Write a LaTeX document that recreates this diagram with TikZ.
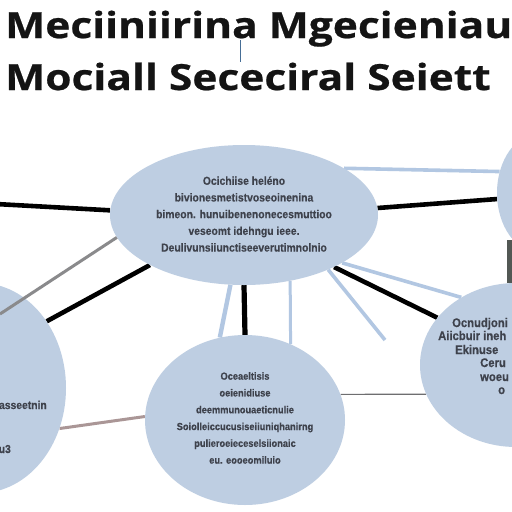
\documentclass[tikz,border=0pt]{standalone}
\usepackage{fontspec}
\setmainfont{Liberation Sans}
\newfontfamily\titlefont{Open Sans}[FakeStretch=1.18, FakeBold=0.6]
\newfontfamily\blobfont{Liberation Sans}[FakeStretch=0.9, FakeBold=0.4]
\usetikzlibrary{shapes.geometric}
\pgfdeclarelayer{bg}
\pgfdeclarelayer{lines}
\pgfsetlayers{bg,lines,main}
\definecolor{blobfill}{RGB}{190,206,226}
\definecolor{lineblue}{RGB}{178,199,226}
\definecolor{txtgray}{RGB}{62,66,76}
\definecolor{midgray}{RGB}{138,138,140}
\definecolor{thingray}{RGB}{110,110,112}
\definecolor{brownline}{RGB}{170,150,150}
\definecolor{darkbar}{RGB}{82,88,84}
\definecolor{tickblue}{RGB}{70,110,150}
\begin{document}
\begin{tikzpicture}[x=1pt,y=-1pt,
  blob/.style={ellipse, fill=blobfill, draw=none, inner sep=0pt},
  blobtext/.style={font=\blobfont\bfseries\fontsize{11.5}{16.7}\selectfont, text=txtgray, align=center, inner sep=0pt},
  smalltext/.style={font=\blobfont\bfseries\fontsize{10.3}{16.8}\selectfont, text=txtgray, align=center, inner sep=0pt},
  rtext/.style={font=\blobfont\bfseries\fontsize{12.5}{13.5}\selectfont, text=txtgray, inner sep=0pt},
  titletext/.style={font=\titlefont\bfseries\fontsize{36}{40}\selectfont, text=black!92, inner sep=0pt},
  blackline/.style={draw=black, line width=4.6pt},
  blueline/.style={draw=lineblue, line width=3.6pt},
  grayline/.style={draw=midgray, line width=3pt},
  thinline/.style={draw=thingray, line width=1.2pt},
  brownconn/.style={draw=brownline, line width=3pt}]
\useasboundingbox (0,0) rectangle (512,512);
\clip (0,0) rectangle (512,512);
\begin{pgfonlayer}{bg}
\fill[white] (0,0) rectangle (512,512);
\end{pgfonlayer}
% title
\node[titletext, anchor=base west] (t1) at (5,38) {Meciiniirina Mgecieniau};
\node[titletext, anchor=base west] (t2) at (5,90) {Mociall Sececiral Seiett};
\draw[tickblue, line width=0.9pt] (240,40) -- (240,62);
% ellipses
\node[blob, minimum width=268pt, minimum height=140pt] (e1) at (244,215) {};
\node[blob, minimum width=86pt, minimum height=120pt] (e2) at (540,193) {};
\node[blob, minimum width=200pt, minimum height=170pt] (e3) at (245,420) {};
\node[blob, minimum width=192pt, minimum height=164pt] (e4) at (516,365) {};
\node[blob, minimum width=172pt, minimum height=210pt] (e5) at (-20,388) {};
\fill[darkbar] (507,240) rectangle (514,283);
% free ends
\coordinate (lend) at (-4,204);
\coordinate (gend) at (0,314);
\coordinate (bend) at (385,340);
% connectors
\begin{pgfonlayer}{lines}
\draw[blackline] (lend) -- (e1.178);
\draw[blackline] (e1.3) -- (e2.188);
\draw[blueline] (e1.25) -- (e2.152);
\draw[blackline] (e1.208) -- (e5.45);
\draw[blackline, line width=5.2pt] (e1.270) -- (e3.90);
\draw[blueline, line width=4.4pt] (e1.259) -- (e3.107);
\draw[blueline, line width=3pt] (e1.305) -- (e3.59);
\draw[blackline] (e1.330) -- (e4.149);
\draw[blueline] (e1.334) -- (e4.129);
\draw[blueline] (e1.327) -- (bend);
\draw[thinline] (e3.15) -- (e4.198);
\draw[brownconn] (e5.333) -- (e3.178);
\end{pgfonlayer}
\draw[grayline] (e1.190) -- (gend);
% texts
\node[blobtext] (x1) at (244,214) {Ocichiise heléno\\bivionesmetistvoseoinenina\\bimeon. hunuibenenonecesmuttioo\\veseomt idehngu ieee.\\Deulivunsiiunctiseeverutimnolnio};
\node[smalltext] (x3) at (245,418) {Oceaeltisis\\oeienidiuse\\deemmunouaeticnulie\\Soiolleiccucusiseiiuniqhanirng\\pulieroeieceselsiionaic\\eu. eooeomiluio};
\foreach \xx/\yy/\tt [count=\i] in {452/327/Ocnudjoni, 438/340/Aiicbuir ineh, 455/354/Ekinuse, 480/367/Ceru, 480/381/woeu, 498/394/o}
  \node[rtext, anchor=base west] (r\i) at (\xx,\yy) {\tt};
\node[blobtext, anchor=base east] (l1) at (47,409) {asseetnin};
\node[blobtext, anchor=base east] (l2) at (11,453) {u3};
\end{tikzpicture}
\end{document}
